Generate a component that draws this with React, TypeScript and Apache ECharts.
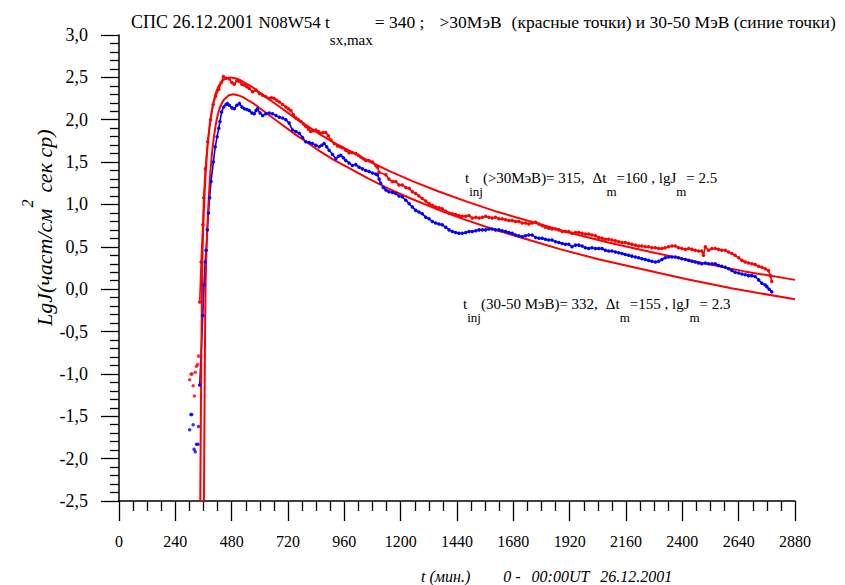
import { useEffect, useRef } from "react";
import * as echarts from "echarts";

const FONT = '"Liberation Serif", "Times New Roman", serif';

const X_MIN = 0;
const X_MAX = 2880;
const X_STEP = 240;
const Y_MIN = -2.5;
const Y_MAX = 3;
const Y_STEP = 0.5;

// red points (>30 MeV), isolated early points
const redEarly: [number, number][] = [
  [301, -1.07], [307, -1.0], [311, -1.0], [316, -1.14], [321, -1.26], [325, -0.98], [330, -0.91], [335, -0.89], [339, -0.79],
];
// blue points (30-50 MeV), isolated early points
const blueEarly: [number, number][] = [
  [301, -1.66], [306, -1.48], [310, -1.48], [316, -1.6], [320, -1.89], [325, -1.92], [330, -1.83], [337, -1.83], [339, -1.62],
];

const redMain: [number, number][] = [
  [344, -0.15], [350, 0.32], [357, 0.76], [361, 1.08], [368, 1.42], [378, 1.74], [390, 2.0], [401, 2.18], [412, 2.28], [425, 2.36],
  [436, 2.44], [445, 2.51], [456, 2.49], [470, 2.48], [481, 2.44], [491, 2.42], [502, 2.46], [513, 2.45], [524, 2.42], [534, 2.41],
  [545, 2.39], [555, 2.37], [569, 2.33], [584, 2.35], [598, 2.31], [612, 2.29], [626, 2.27], [640, 2.25], [650, 2.26], [661, 2.25],
  [672, 2.23], [683, 2.21], [697, 2.18], [711, 2.15], [722, 2.13], [732, 2.11], [743, 2.06], [754, 2.02], [765, 2.0], [775, 1.98],
  [786, 1.95], [796, 1.92], [807, 1.89], [817, 1.86], [828, 1.87], [839, 1.88], [850, 1.86], [860, 1.84], [870, 1.85], [881, 1.85],
  [892, 1.81], [903, 1.76], [917, 1.72], [931, 1.69], [942, 1.68], [952, 1.67], [966, 1.64], [980, 1.61], [994, 1.61], [1009, 1.6],
  [1020, 1.58], [1030, 1.56], [1041, 1.54], [1051, 1.52], [1065, 1.52], [1080, 1.5], [1094, 1.46], [1101, 1.44], [1108, 1.38], [1137, 1.35],
  [1150, 1.3], [1165, 1.27], [1179, 1.27], [1193, 1.23], [1207, 1.23], [1222, 1.2], [1236, 1.19], [1250, 1.15], [1264, 1.13], [1278, 1.1],
  [1292, 1.07], [1307, 1.04], [1321, 1.01], [1335, 0.99], [1349, 0.97], [1363, 0.96], [1377, 0.95], [1392, 0.92], [1406, 0.9], [1420, 0.89],
  [1434, 0.88], [1448, 0.87], [1462, 0.86], [1477, 0.86], [1491, 0.87], [1505, 0.84], [1520, 0.85], [1534, 0.84], [1548, 0.85], [1562, 0.86],
  [1576, 0.85], [1590, 0.84], [1604, 0.85], [1618, 0.83], [1632, 0.83], [1647, 0.82], [1661, 0.81], [1675, 0.81], [1689, 0.8], [1703, 0.8],
  [1718, 0.78], [1732, 0.78], [1746, 0.77], [1760, 0.78], [1775, 0.79], [1789, 0.77], [1803, 0.75], [1817, 0.73], [1831, 0.72], [1845, 0.71],
  [1860, 0.71], [1874, 0.7], [1888, 0.68], [1902, 0.68], [1916, 0.68], [1930, 0.66], [1945, 0.67], [1959, 0.67], [1973, 0.66], [1987, 0.65],
  [2001, 0.65], [2015, 0.64], [2030, 0.63], [2044, 0.61], [2058, 0.6], [2072, 0.59], [2086, 0.59], [2100, 0.58], [2115, 0.57], [2129, 0.56],
  [2143, 0.55], [2157, 0.55], [2171, 0.54], [2185, 0.53], [2200, 0.52], [2214, 0.51], [2228, 0.51], [2242, 0.5], [2256, 0.5], [2270, 0.49],
  [2285, 0.49], [2299, 0.48], [2313, 0.48], [2327, 0.49], [2341, 0.5], [2356, 0.51], [2370, 0.51], [2384, 0.49], [2398, 0.48], [2413, 0.47],
  [2427, 0.48], [2441, 0.47], [2455, 0.46], [2469, 0.45], [2483, 0.45], [2490, 0.4], [2498, 0.5], [2512, 0.46], [2526, 0.48], [2540, 0.48],
  [2554, 0.47], [2568, 0.46], [2583, 0.46], [2597, 0.44], [2611, 0.42], [2625, 0.4], [2640, 0.37], [2654, 0.34], [2668, 0.32], [2682, 0.31],
  [2696, 0.3], [2710, 0.29], [2725, 0.27], [2739, 0.26], [2753, 0.24], [2767, 0.22], [2775, 0.16], [2781, 0.09],
];

const blueMain: [number, number][] = [
  [344, -1.13], [357, -0.31], [362, 0.05], [367, 0.32], [371, 0.46], [376, 0.7], [381, 0.9], [386, 1.08], [392, 1.27], [402, 1.5],
  [410, 1.68], [418, 1.8], [425, 1.9], [430, 1.98], [437, 2.09], [446, 2.15], [456, 2.18], [462, 2.19], [470, 2.17], [481, 2.14],
  [491, 2.13], [502, 2.17], [513, 2.19], [524, 2.15], [534, 2.13], [545, 2.12], [555, 2.11], [566, 2.08], [576, 2.07], [584, 2.11],
  [590, 2.13], [601, 2.08], [612, 2.05], [626, 2.07], [640, 2.08], [654, 2.07], [669, 2.05], [683, 2.03], [697, 2.02], [711, 2.0],
  [725, 1.96], [739, 1.88], [754, 1.86], [768, 1.84], [782, 1.79], [796, 1.74], [810, 1.73], [824, 1.72], [839, 1.7], [853, 1.68],
  [864, 1.7], [874, 1.72], [885, 1.68], [895, 1.64], [910, 1.59], [924, 1.54], [935, 1.57], [945, 1.58], [956, 1.55], [966, 1.52],
  [980, 1.49], [994, 1.46], [1009, 1.47], [1023, 1.44], [1037, 1.42], [1051, 1.4], [1065, 1.39], [1080, 1.37], [1094, 1.36], [1101, 1.35],
  [1108, 1.3], [1115, 1.25], [1126, 1.2], [1137, 1.17], [1150, 1.15], [1165, 1.14], [1179, 1.13], [1193, 1.1], [1207, 1.09], [1222, 1.05],
  [1236, 1.01], [1250, 0.97], [1264, 0.93], [1278, 0.91], [1292, 0.89], [1307, 0.85], [1321, 0.83], [1335, 0.8], [1349, 0.78], [1363, 0.77],
  [1377, 0.76], [1392, 0.73], [1406, 0.7], [1420, 0.68], [1434, 0.67], [1448, 0.66], [1462, 0.66], [1477, 0.67], [1491, 0.68], [1505, 0.68],
  [1520, 0.69], [1534, 0.7], [1548, 0.7], [1562, 0.7], [1576, 0.71], [1590, 0.71], [1604, 0.7], [1618, 0.7], [1632, 0.69], [1647, 0.68],
  [1661, 0.67], [1675, 0.66], [1689, 0.64], [1703, 0.63], [1718, 0.62], [1732, 0.63], [1746, 0.64], [1760, 0.64], [1775, 0.61], [1789, 0.6],
  [1803, 0.6], [1817, 0.59], [1831, 0.58], [1845, 0.58], [1860, 0.56], [1874, 0.55], [1888, 0.54], [1902, 0.53], [1916, 0.53], [1930, 0.5],
  [1945, 0.52], [1959, 0.52], [1973, 0.51], [1987, 0.49], [2001, 0.48], [2015, 0.49], [2030, 0.48], [2044, 0.48], [2058, 0.48], [2072, 0.46],
  [2086, 0.45], [2100, 0.45], [2115, 0.44], [2129, 0.43], [2143, 0.42], [2157, 0.41], [2171, 0.4], [2185, 0.39], [2200, 0.38], [2214, 0.37],
  [2228, 0.36], [2242, 0.35], [2256, 0.34], [2270, 0.33], [2285, 0.32], [2299, 0.33], [2313, 0.35], [2327, 0.37], [2341, 0.38], [2356, 0.38],
  [2370, 0.38], [2384, 0.37], [2398, 0.36], [2413, 0.35], [2427, 0.34], [2441, 0.33], [2455, 0.32], [2469, 0.31], [2483, 0.3], [2498, 0.31],
  [2512, 0.3], [2526, 0.3], [2540, 0.3], [2554, 0.28], [2568, 0.27], [2583, 0.26], [2597, 0.24], [2611, 0.22], [2625, 0.2], [2640, 0.19],
  [2654, 0.18], [2668, 0.17], [2682, 0.16], [2696, 0.16], [2710, 0.15], [2725, 0.11], [2739, 0.07], [2753, 0.05], [2760, 0.03], [2770, 0.0],
  [2781, -0.03],
];

// fitted curve, >30 MeV (t_inj 315, dt_m 160, lgJ_m 2.5)
const fitHigh: [number, number][] = [
  [345, -3.0], [347, -2.2], [349, -1.4], [351, -0.7], [353, -0.1], [355, 0.35], [360, 0.82], [365, 1.15], [370, 1.4], [375, 1.61],
  [380, 1.77], [385, 1.9], [390, 2.01], [395, 2.1], [402, 2.2], [410, 2.29], [417, 2.35], [425, 2.4], [435, 2.44], [445, 2.47],
  [455, 2.49], [475, 2.5], [495, 2.49], [515, 2.47], [540, 2.43], [565, 2.39], [595, 2.33], [625, 2.27], [660, 2.2], [700, 2.12],
  [745, 2.03], [795, 1.94], [855, 1.83], [915, 1.73], [985, 1.63], [1065, 1.51], [1155, 1.39], [1255, 1.27], [1365, 1.15], [1485, 1.03],
  [1615, 0.91], [1765, 0.79], [1915, 0.67], [2085, 0.55], [2265, 0.44], [2465, 0.32], [2665, 0.21], [2880, 0.11],
];
// fitted curve, 30-50 MeV (t_inj 332, dt_m 155, lgJ_m 2.3)
const fitLow: [number, number][] = [
  [361, -3.0], [363, -2.0], [365, -1.1], [367, -0.4], [369, 0.05], [372, 0.4], [376, 0.68], [380, 0.95], [385, 1.2], [390, 1.41],
  [395, 1.57], [400, 1.7], [405, 1.81], [410, 1.9], [416, 2.0], [424, 2.09], [431, 2.15], [439, 2.2], [448, 2.24], [468, 2.29],
  [487, 2.3], [506, 2.29], [526, 2.27], [550, 2.23], [574, 2.19], [603, 2.13], [632, 2.07], [666, 2.0], [705, 1.92], [749, 1.83],
  [797, 1.74], [855, 1.63], [913, 1.53], [981, 1.43], [1059, 1.31], [1146, 1.19], [1243, 1.07], [1349, 0.95], [1465, 0.83], [1591, 0.71],
  [1737, 0.59], [1882, 0.47], [2047, 0.35], [2221, 0.24], [2415, 0.12], [2609, 0.01], [2880, -0.12],
];

type Piece = { t: string; s: number; dy?: number; it?: boolean; gap?: number };

const TITLE: Piece[] = [
  { t: "СПС 26.12.2001", s: 18 },
  { t: "N08W54 t", s: 17, gap: 5 },
  { t: "sx,max", s: 15, dy: 17 },
  { t: "= 340 ;", s: 17.5, gap: 2 },
  { t: ">30МэВ", s: 17.5, gap: 15 },
  { t: "(красные точки)", s: 17.5, gap: 10 },
  { t: "и 30-50 МэВ (синие точки)", s: 17.5, gap: 4 },
];
const NOTE_HIGH: Piece[] = [
  { t: "t", s: 15 }, { t: "inj", s: 13, dy: 13 }, { t: "(>30МэВ)= 315,", s: 15 }, { t: "Δt", s: 15, gap: 8 },
  { t: "m", s: 13, dy: 13 }, { t: "=160 , lgJ", s: 15 }, { t: "m", s: 13, dy: 13 }, { t: "= 2.5", s: 15 },
];
const NOTE_LOW: Piece[] = [
  { t: "t", s: 15 }, { t: "inj", s: 13, dy: 13 }, { t: "(30-50 МэВ)= 332,", s: 15 }, { t: "Δt", s: 15, gap: 8 },
  { t: "m", s: 13, dy: 13 }, { t: "=155 , lgJ", s: 15 }, { t: "m", s: 13, dy: 13 }, { t: "= 2.3", s: 15 },
];
const X_TITLE: Piece[] = [
  { t: "t (мин.)", s: 16, it: true },
  { t: "0 -", s: 16, it: true, gap: 33 },
  { t: "00:00UT", s: 16, it: true, gap: 11 },
  { t: "26.12.2001", s: 16, it: true, gap: 11 },
];
const Y_TITLE_A = "LgJ(част/см";
const Y_TITLE_SUP = "2";
const Y_TITLE_B = "сек ср)";

let measureCtx: CanvasRenderingContext2D | null = null;
function measure(text: string, size: number, italic?: boolean) {
  if (!measureCtx) measureCtx = document.createElement("canvas").getContext("2d");
  if (!measureCtx) return text.length * size * 0.5;
  measureCtx.font = `${italic ? "italic " : ""}${size}px ${FONT}`;
  return measureCtx.measureText(text).width;
}

function textEl(text: string, x: number, y: number, size: number, italic?: boolean, extra?: any) {
  return {
    type: "text",
    x,
    y,
    silent: true,
    ...(extra || {}),
    style: {
      text,
      fill: "#000",
      fontSize: size,
      fontFamily: FONT,
      fontStyle: italic ? "italic" : "normal",
      align: "left",
      verticalAlign: "middle",
    },
  };
}

function row(pieces: Piece[], x0: number, baseline: number) {
  const out: any[] = [];
  let x = x0;
  for (const p of pieces) {
    x += p.gap || 0;
    out.push(textEl(p.t, x, baseline + (p.dy || 0) - 0.34 * p.s, p.s, p.it));
    x += measure(p.t, p.s, p.it);
  }
  return out;
}

export default function App() {
  const ref = useRef<HTMLDivElement>(null);
  useEffect(() => {
    if (!ref.current) return;
    const chart = echarts.init(ref.current, undefined, { renderer: "svg" });

    const graphics: any[] = [];
    graphics.push(...row(TITLE, 131, 28));
    graphics.push(...row(NOTE_HIGH, 465, 183));
    graphics.push(...row(NOTE_LOW, 463, 309));
    graphics.push(...row(X_TITLE, 421, 582));
    // rotated y-axis title (reads bottom to top)
    const ySize = 22;
    const yBottom = 326;
    const wA = measure(Y_TITLE_A, ySize, true);
    const wSup = measure(Y_TITLE_SUP, 16, true);
    graphics.push(textEl(Y_TITLE_A, 44, yBottom, ySize, true, { rotation: Math.PI / 2 }));
    graphics.push(textEl(Y_TITLE_SUP, 27, yBottom - wA - 1, 16, true, { rotation: Math.PI / 2 }));
    graphics.push(textEl(Y_TITLE_B, 44, yBottom - wA - wSup - 8, ySize, true, { rotation: Math.PI / 2 }));

    const red = "#ff0000";
    const blue = "#0000ff";

    chart.setOption({
      animation: false,
      backgroundColor: "#fff",
      grid: { left: 119, right: 50, top: 35, bottom: 84, containLabel: false },
      xAxis: {
        type: "value",
        min: X_MIN,
        max: X_MAX,
        interval: X_STEP,
        axisLine: { show: true, onZero: false, lineStyle: { color: "#000", width: 1.5 } },
        axisTick: { show: true, length: 20, lineStyle: { color: "#000", width: 1.3 } },
        minorTick: { show: true, splitNumber: 4, length: 10, lineStyle: { color: "#000", width: 1.3 } },
        splitLine: { show: false },
        axisLabel: {
          color: "#000",
          fontFamily: FONT,
          fontSize: 16,
          margin: 32,
          formatter: (v: number) => String(v),
        },
      },
      yAxis: {
        type: "value",
        min: Y_MIN,
        max: Y_MAX,
        interval: Y_STEP,
        axisLine: { show: true, onZero: false, lineStyle: { color: "#000", width: 1.5 } },
        axisTick: { show: true, length: 18, lineStyle: { color: "#000", width: 1.3 } },
        minorTick: { show: true, splitNumber: 5, length: 9, lineStyle: { color: "#000", width: 1.3 } },
        splitLine: { show: false },
        axisLabel: {
          color: "#000",
          fontFamily: FONT,
          fontSize: 18,
          margin: 31,
          formatter: (v: number) => v.toFixed(1).replace(".", ","),
        },
      },
      graphic: { elements: graphics },
      series: [
        {
          type: "scatter",
          data: redEarly,
          symbol: "circle",
          symbolSize: 3.5,
          itemStyle: { color: red },
        },
        {
          type: "scatter",
          data: blueEarly,
          symbol: "circle",
          symbolSize: 3.5,
          itemStyle: { color: blue },
        },
        {
          type: "line",
          data: blueMain,
          symbol: "circle",
          symbolSize: 3.5,
          showSymbol: true,
          lineStyle: { color: blue, width: 1.6 },
          itemStyle: { color: blue },
        },
        {
          type: "line",
          data: redMain,
          symbol: "circle",
          symbolSize: 3.5,
          showSymbol: true,
          lineStyle: { color: red, width: 1.6 },
          itemStyle: { color: red },
        },
        {
          type: "line",
          data: fitHigh,
          smooth: false,
          showSymbol: false,
          clip: true,
          lineStyle: { color: red, width: 2 },
        },
        {
          type: "line",
          data: fitLow,
          smooth: false,
          showSymbol: false,
          clip: true,
          lineStyle: { color: red, width: 2 },
        },
      ],
    });
    return () => chart.dispose();
  }, []);
  return (
    <div
      ref={ref}
      style={{ position: "fixed", left: 0, top: 0, width: 845, height: 585, background: "#fff" }}
    />
  );
}
